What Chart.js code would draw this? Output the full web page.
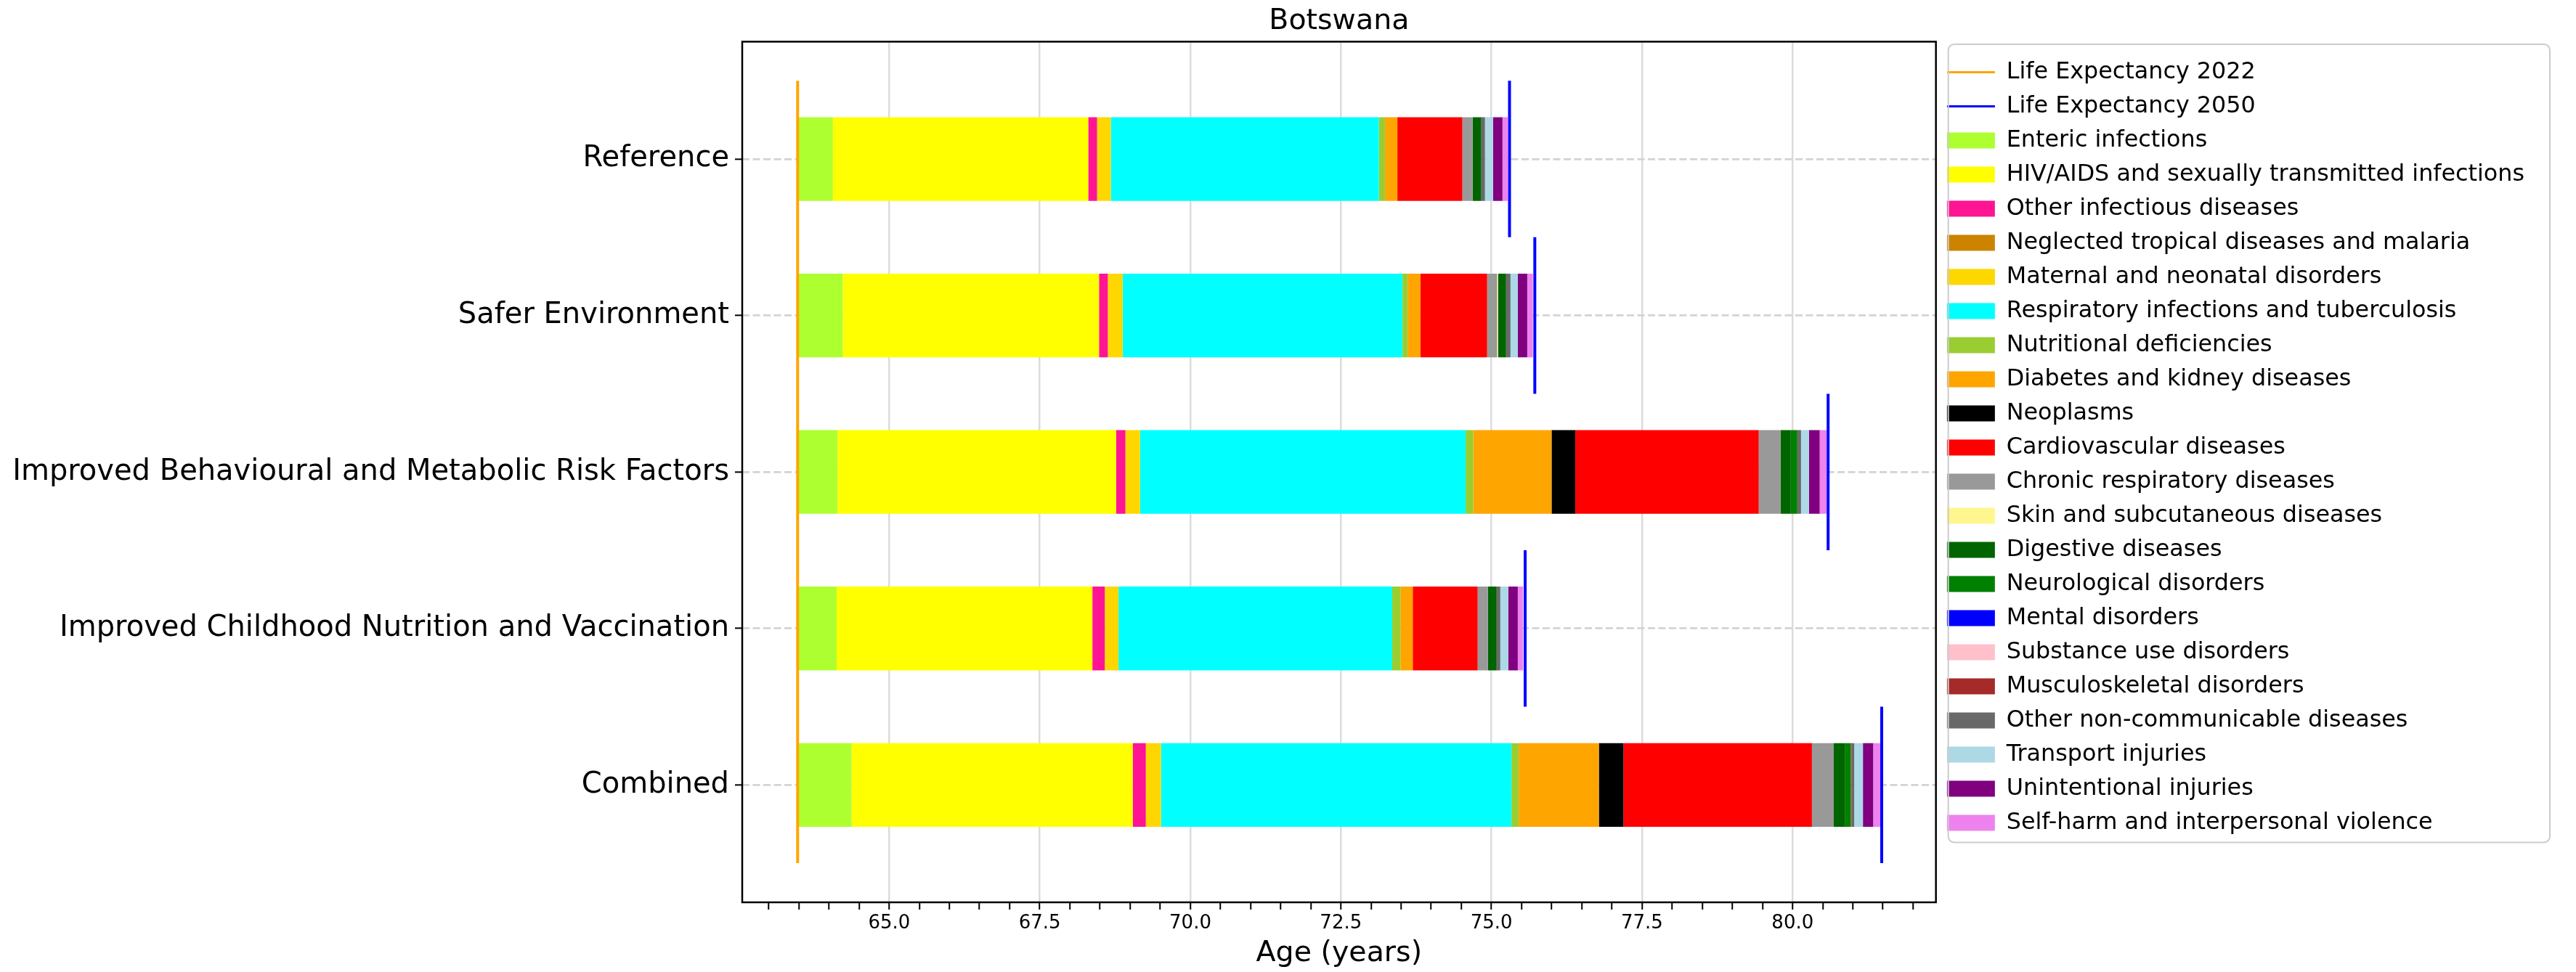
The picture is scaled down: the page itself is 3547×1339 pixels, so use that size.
<!DOCTYPE html>
<html>
<head>
<meta charset="utf-8">
<script src="https://cdn.jsdelivr.net/npm/chart.js@4.4.0/dist/chart.umd.min.js"></script>
<style>
  html, body { margin: 0; padding: 0; background: #fff; }
  #wrap { width: 3547px; height: 1339px; }
</style>
</head>
<body>
<div id="wrap"><canvas id="chart-botswana"></canvas></div>
<script>
const scenarios = ['Reference', 'Safer Environment', 'Improved Behavioural and Metabolic Risk Factors',
	'Improved Childhood Nutrition and Vaccination', 'Combined'];
const lifeExp2022 = [63.48, 63.48, 63.48, 63.48, 63.48];
const lifeExp2050 = [75.30, 75.72, 80.59, 75.56, 81.48];

const causes = ['Enteric infections', 'HIV/AIDS and sexually transmitted infections', 'Other infectious diseases',
	'Neglected tropical diseases and malaria', 'Maternal and neonatal disorders', 'Respiratory infections and tuberculosis',
	'Nutritional deficiencies', 'Diabetes and kidney diseases', 'Neoplasms', 'Cardiovascular diseases',
	'Chronic respiratory diseases', 'Skin and subcutaneous diseases', 'Digestive diseases', 'Neurological disorders',
	'Mental disorders', 'Substance use disorders', 'Musculoskeletal disorders', 'Other non-communicable diseases',
	'Transport injuries', 'Unintentional injuries', 'Self-harm and interpersonal violence'];
const causeColors = ['#adff2f', '#ffff00', '#ff1493', '#cc8400', '#ffd700', '#00ffff', '#9acd32', '#ffa500', '#000000',
	'#ff0000', '#999999', '#fff68f', '#006400', '#008000', '#0000ff', '#ffc0cb', '#a52a2a', '#696969', '#add8e6',
	'#800080', '#ee82ee'];

// years gained per cause, one value per scenario (same order as scenarios)
const enteric = [0.585, 0.749, 0.662, 0.647, 0.896];
const hiv = [4.240, 4.255, 4.628, 4.247, 4.668];
const otherInfectious = [0.145, 0.145, 0.151, 0.204, 0.216];
const tropical = [0.005, 0.005, 0.005, 0.005, 0.005];
const maternal = [0.225, 0.242, 0.239, 0.225, 0.247];
const respiratory = [4.451, 4.647, 5.406, 4.544, 5.820];
const nutritional = [0.102, 0.085, 0.127, 0.137, 0.120];
const diabetes = [0.205, 0.213, 1.300, 0.204, 1.332];
const neoplasms = [0, 0, 0.394, 0, 0.408];
const cardio = [1.079, 1.107, 3.046, 1.078, 3.129];
const chronicResp = [0.170, 0.166, 0.363, 0.170, 0.363];
const skin = [0, 0.016, 0, 0, 0];
const digestive = [0.144, 0.133, 0.169, 0.145, 0.182];
const neuro = [0, 0, 0.109, 0, 0.101];
const mental = [0, 0, 0, 0, 0];
const substance = [0, 0, 0, 0, 0];
const musculo = [0, 0, 0, 0, 0.010];
const otherNcd = [0.061, 0.073, 0.061, 0.061, 0.046];
const transport = [0.134, 0.121, 0.133, 0.133, 0.145];
const unintentional = [0.157, 0.157, 0.177, 0.157, 0.170];
const selfHarm = [0.088, 0.093, 0.113, 0.089, 0.117];

const gains = [enteric, hiv, otherInfectious, tropical, maternal, respiratory, nutritional, diabetes, neoplasms,
	cardio, chronicResp, skin, digestive, neuro, mental, substance, musculo, otherNcd, transport, unintentional, selfHarm];

const xMajorTicks = [65.0, 67.5, 70.0, 72.5, 75.0, 77.5, 80.0];
const xMinorStep = 0.5;

function isMajor(v) {
	return xMajorTicks.some((t) => Math.abs(t - v) < 1e-6);
}

// one vertical segment per scenario, broken between scenarios
function lifeExpSegments(values) {
	let pts = [];
	values.forEach((v, i) => {
		pts.push({x: v, y: i - 0.5}, {x: v, y: i + 0.5}, {x: null, y: i + 0.5});
	});
	return pts;
}

let lineSets = [
	{label: 'Life Expectancy 2022', values: lifeExp2022, color: 'orange'},
	{label: 'Life Expectancy 2050', values: lifeExp2050, color: 'blue'}
].map((l) => ({
	type: 'line',
	label: l.label,
	data: lifeExpSegments(l.values),
	borderColor: l.color,
	backgroundColor: l.color,
	borderWidth: 4,
	borderCapStyle: 'butt',
	pointRadius: 0,
	fill: false,
	spanGaps: false
}));

let barSets = causes.map((name, c) => ({
	type: 'bar',
	label: name,
	backgroundColor: causeColors[c],
	borderWidth: 0,
	grouped: false,
	barPercentage: 0.535,
	categoryPercentage: 1,
	data: scenarios.map((s, i) => {
		let start = lifeExp2022[i];
		for (let k = 0; k < c; k++) start += gains[k][i];
		return {x: [start, start + gains[c][i]], y: i};
	})
}));

const framePlugin = {
	id: 'frame',
	afterDraw(chart) {
		const ctx = chart.ctx;
		const a = chart.chartArea;
		ctx.save();
		ctx.strokeStyle = '#000';
		ctx.lineWidth = 2.5;
		ctx.strokeRect(a.left, a.top, a.right - a.left, a.bottom - a.top);

		// legend box, like matplotlib's frame
		const boxes = chart.legend.legendHitBoxes;
		if (boxes && boxes.length) {
			let left = a.right + 17;
			let right = chart.width - 36;
			let top = a.top + 3.5;
			let last = boxes[boxes.length - 1];
			let bottom = last.top + last.height + 11;
			ctx.strokeStyle = '#cccccc';
			ctx.lineWidth = 2;
			ctx.beginPath();
			ctx.roundRect(left, top, right - left, bottom - top, 8);
			ctx.stroke();
		}
		ctx.restore();
	}
};

Chart.defaults.font.family = '"DejaVu Sans", sans-serif';
Chart.defaults.color = '#000';

let chartCtx = document.getElementById('chart-botswana');
let botswanaChart = new Chart(chartCtx, {
	type: 'bar',
	data: {
		datasets: [...lineSets, ...barSets]
	},
	options: {
		indexAxis: 'y',
		responsive: true,
		maintainAspectRatio: false,
		animation: false,
		devicePixelRatio: 1,
		layout: {
			padding: {top: 0, right: 61, bottom: 0, left: 0}
		},
		plugins: {
			title: {
				display: true,
				text: 'Botswana',
				fullSize: false,
				color: '#000',
				font: {size: 39.5, weight: 'normal'},
				padding: {top: 6, bottom: 4}
			},
			legend: {
				position: 'right',
				align: 'start',
				fullSize: false,
				title: {display: true, text: '', font: {size: 9, lineHeight: 1}, padding: 1},
				labels: {
					font: {size: 31.8},
					color: '#000',
					usePointStyle: true,
					pointStyleWidth: 66,
					boxHeight: 22,
					padding: 15.2,
					generateLabels: (chart) => chart.data.datasets.map((ds, i) => {
						let isLine = ds.type === 'line';
						let col = isLine ? ds.borderColor : ds.backgroundColor;
						return {
							text: ds.label,
							fillStyle: col,
							strokeStyle: col,
							lineWidth: isLine ? 3 : 0,
							pointStyle: isLine ? 'line' : 'rect',
							hidden: false,
							datasetIndex: i,
							fontColor: '#000'
						};
					})
				}
			},
			tooltip: {enabled: false}
		},
		scales: {
			x: {
				type: 'linear',
				min: 62.56,
				max: 82.38,
				beginAtZero: false,
				afterBuildTicks: (axis) => {
					let ticks = [];
					for (let v = Math.ceil(axis.min / xMinorStep) * xMinorStep; v <= axis.max; v += xMinorStep) {
						ticks.push({value: Math.round(v * 10) / 10});
					}
					axis.ticks = ticks;
				},
				afterFit: (scale) => { scale.height = 96; },
				ticks: {
					autoSkip: false,
					maxRotation: 0,
					padding: 4,
					font: {size: 26},
					color: '#000',
					callback: (v) => isMajor(v) ? v.toFixed(1) : ''
				},
				grid: {
					color: (c) => (c.tick && isMajor(c.tick.value)) ? '#dcdcdc' : 'rgba(0,0,0,0)',
					lineWidth: 2.5,
					drawTicks: true,
					tickColor: '#000',
					tickLength: 10,
					tickWidth: 2
				},
				border: {display: false},
				title: {
					display: true,
					text: 'Age (years)',
					color: '#000',
					font: {size: 39.5},
					padding: {top: 4, bottom: 2}
				}
			},
			y: {
				type: 'linear',
				min: -0.75,
				max: 4.75,
				reverse: true,
				offset: false,
				afterBuildTicks: (axis) => {
					axis.ticks = scenarios.map((s, i) => ({value: i}));
				},
				afterFit: (scale) => { scale.width = 1022; },
				ticks: {
					autoSkip: false,
					padding: 8,
					font: {size: 40},
					color: '#000',
					callback: (v) => scenarios[v]
				},
				grid: {
					offset: false,
					color: '#d3d3d3',
					lineWidth: 2.7,
					drawTicks: true,
					tickColor: '#000',
					tickLength: 10,
					tickWidth: 2
				},
				border: {display: false, dash: [10, 4.5]}
			}
		}
	},
	plugins: [framePlugin]
});
</script>
</body>
</html>
